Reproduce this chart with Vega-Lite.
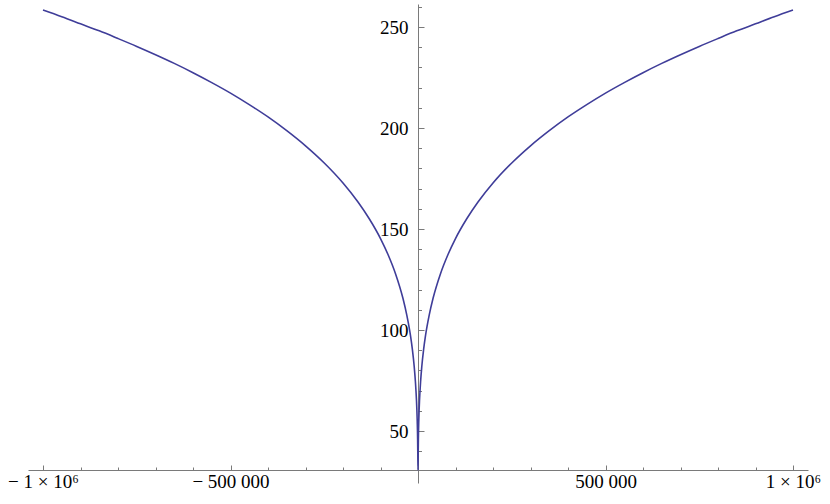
{
  "$schema": "https://vega.github.io/schema/vega-lite/v6.json",
  "width": 780,
  "height": 479,
  "autosize": {"type": "none"},
  "padding": {"left": 28, "top": 4, "right": 22, "bottom": 21},
  "background": "white",
  "config": {
    "view": {"stroke": null},
    "axis": {
      "labelFont": "Liberation Serif",
      "labelFontSize": 19,
      "labelColor": "#000000",
      "domainColor": "#7a7a7a",
      "tickColor": "#7a7a7a",
      "domainWidth": 1,
      "tickWidth": 1,
      "grid": false,
      "title": null
    }
  },
  "data": {
    "values": [
      {"x": -1000000, "y": 258.4}, {"x": -950000, "y": 255.1}, {"x": -900000, "y": 251.6}, {"x": -850000, "y": 248.1}, {"x": -800000, "y": 244.3},
      {"x": -750000, "y": 240.4}, {"x": -700000, "y": 236.3}, {"x": -650000, "y": 232.0}, {"x": -600000, "y": 227.4}, {"x": -550000, "y": 222.5}, {"x": -500000, "y": 217.3},
      {"x": -450000, "y": 211.6}, {"x": -400000, "y": 205.5}, {"x": -350000, "y": 198.7},
      {"x": -300000, "y": 191.2}, {"x": -250000, "y": 182.7}, {"x": -200000, "y": 172.8},
      {"x": -160000, "y": 163.4}, {"x": -130000, "y": 155.1}, {"x": -100000, "y": 145.3},
      {"x": -80000, "y": 137.4}, {"x": -60000, "y": 127.9}, {"x": -40000, "y": 115.6},
      {"x": -30000, "y": 107.5}, {"x": -20000, "y": 97.2}, {"x": -15000, "y": 90.4},
      {"x": -10000, "y": 81.7}, {"x": -7000, "y": 74.7}, {"x": -4000, "y": 65.0},
      {"x": -3000, "y": 60.5}, {"x": -2000, "y": 54.6}, {"x": -1000, "y": 45.9},
      {"x": -500, "y": 38.6}, {"x": 0, "y": 30.7},
      {"x": 500, "y": 38.6}, {"x": 1000, "y": 45.9}, {"x": 2000, "y": 54.6},
      {"x": 3000, "y": 60.5}, {"x": 4000, "y": 65.0}, {"x": 7000, "y": 74.7},
      {"x": 10000, "y": 81.7}, {"x": 15000, "y": 90.4}, {"x": 20000, "y": 97.2},
      {"x": 30000, "y": 107.5}, {"x": 40000, "y": 115.6}, {"x": 60000, "y": 127.9},
      {"x": 80000, "y": 137.4}, {"x": 100000, "y": 145.3}, {"x": 130000, "y": 155.1},
      {"x": 160000, "y": 163.4}, {"x": 200000, "y": 172.8}, {"x": 250000, "y": 182.7},
      {"x": 300000, "y": 191.2}, {"x": 350000, "y": 198.7}, {"x": 400000, "y": 205.5},
      {"x": 450000, "y": 211.6}, {"x": 500000, "y": 217.3}, {"x": 550000, "y": 222.5}, {"x": 600000, "y": 227.4},
      {"x": 650000, "y": 232.0}, {"x": 700000, "y": 236.3}, {"x": 750000, "y": 240.4}, {"x": 800000, "y": 244.3},
      {"x": 850000, "y": 248.1}, {"x": 900000, "y": 251.6}, {"x": 950000, "y": 255.1},
      {"x": 1000000, "y": 258.4}
    ]
  },
  "layer": [
    {
      "mark": {"type": "line", "strokeOpacity": 0},
      "encoding": {
        "x": {
          "field": "x", "type": "quantitative",
          "scale": {"domain": [-1040000, 1040000], "nice": false, "zero": false},
          "axis": {
            "orient": "bottom", "offset": -13, "domain": false, "labels": false,
            "tickSize": -3,
            "values": [-900000, -800000, -700000, -600000, -400000, -300000, -200000, -100000, 100000, 200000, 300000, 400000, 600000, 700000, 800000, 900000]
          }
        },
        "y": {
          "field": "y", "type": "quantitative",
          "scale": {"domain": [24.3, 261.4], "nice": false, "zero": false},
          "axis": {
            "orient": "left", "offset": -390, "domain": false, "labels": false,
            "tickSize": -3.5,
            "values": [40, 60, 70, 80, 90, 110, 120, 130, 140, 160, 170, 180, 190, 210, 220, 230, 240, 260]
          }
        }
      }
    },
    {
      "mark": {"type": "line", "color": "#3f3d99", "strokeWidth": 1.6, "interpolate": "monotone"},
      "encoding": {
        "x": {
          "field": "x", "type": "quantitative",
          "axis": {
            "orient": "bottom", "offset": -13,
            "values": [-1000000, -500000, 500000, 1000000],
            "tickSize": -5, "labelPadding": 22.7, "labelBaseline": "alphabetic",
            "labelFlush": false, "labelOverlap": false,
            "labelExpr": "datum.value == -1000000 ? '− 1 × 10⁶' : datum.value == -500000 ? '− 500 000' : datum.value == 500000 ? '500 000' : '1 × 10⁶'"
          }
        },
        "y": {
          "field": "y", "type": "quantitative",
          "axis": {
            "orient": "left", "offset": -390,
            "values": [50, 100, 150, 200, 250],
            "tickSize": -6, "labelPadding": 16, "labelBaseline": "middle",
            "labelOverlap": false
          }
        }
      }
    }
  ],
  "resolve": {"axis": {"x": "independent", "y": "independent"}}
}
